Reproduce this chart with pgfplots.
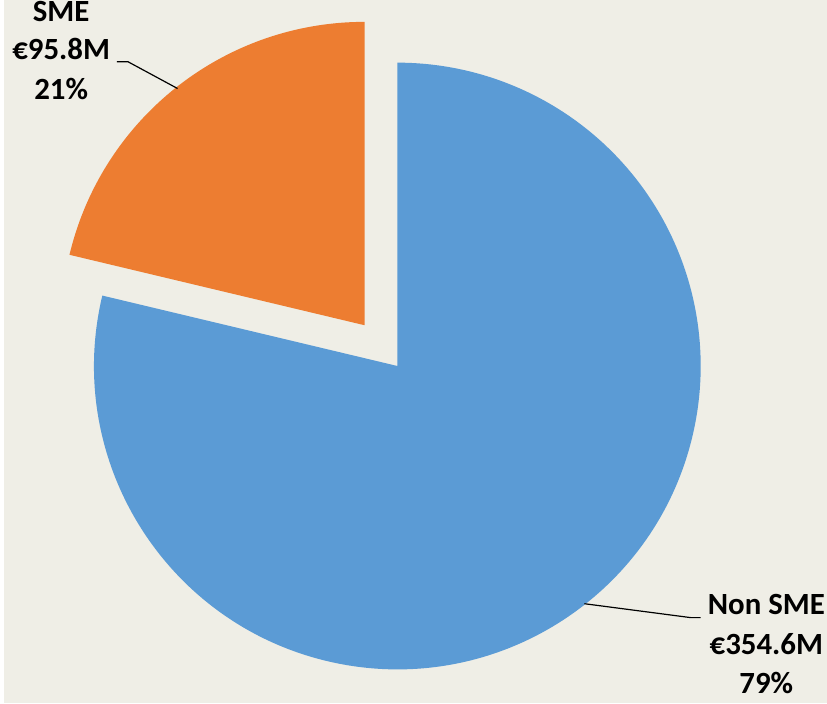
\documentclass[border=0pt]{standalone}
\usepackage{pgfplots}
\usepackage{pgfplotstable}
\pgfplotsset{compat=1.18}
\usepackage{fontspec}
\setmainfont{Carlito}
\definecolor{bgc}{HTML}{EFEEE6}
\definecolor{pieblue}{HTML}{5B9BD5}
\definecolor{pieorange}{HTML}{ED7D31}
\pgfplotstableread{
label value
SME 95.8
NonSME 354.6
}\piedata
\begin{document}
\pgfplotstablegetelem{0}{value}\of\piedata \let\vsme\pgfplotsretval
\pgfplotstablegetelem{1}{value}\of\piedata \let\vnon\pgfplotsretval
\pgfmathsetmacro{\frac}{\vsme/(\vsme+\vnon)}
\pgfmathsetmacro{\ea}{90+360*\frac}
\begin{tikzpicture}
\begin{axis}[
  scale only axis, width=827pt, height=707pt,
  xmin=0, xmax=827, ymin=0, ymax=707,
  hide axis, clip=false,
  font=\bfseries\fontsize{31}{38}\selectfont,
]
\fill[bgc] (axis cs:0,0) rectangle (axis cs:827,707);
\coordinate (SW) at (axis cs:0,0);
\coordinate (NE) at (axis cs:827,707);
% Non SME slice
\fill[pieblue] (axis cs:395,339) -- ++(\ea:305pt) arc[start angle=\ea, end angle=450, radius=305pt] -- cycle;
% SME slice (exploded)
\fill[pieorange] (axis cs:362,380) -- ++(90:305pt) arc[start angle=90, end angle=\ea, radius=305pt] -- cycle;
% leader lines
\draw[black, line width=1.2pt] (axis cs:113,645) -- (axis cs:124,645) -- (axis cs:174,618);
\draw[black, line width=1.2pt] (axis cs:583,100) -- (axis cs:690,86) -- (axis cs:700,86);
% labels
\begin{scope}[every node/.style={anchor=base, inner sep=0pt, overlay}]
\node at (axis cs:57,685) {SME};
\node at (axis cs:57,647) {€95.8M};
\node at (axis cs:57,607) {21\%};
\node at (axis cs:766,89) {Non SME};
\node at (axis cs:766,49) {€354.6M};
\node at (axis cs:766,10) {79\%};
\end{scope}
\end{axis}
\pgfresetboundingbox
\useasboundingbox (SW) rectangle (NE);
\end{tikzpicture}
\end{document}
